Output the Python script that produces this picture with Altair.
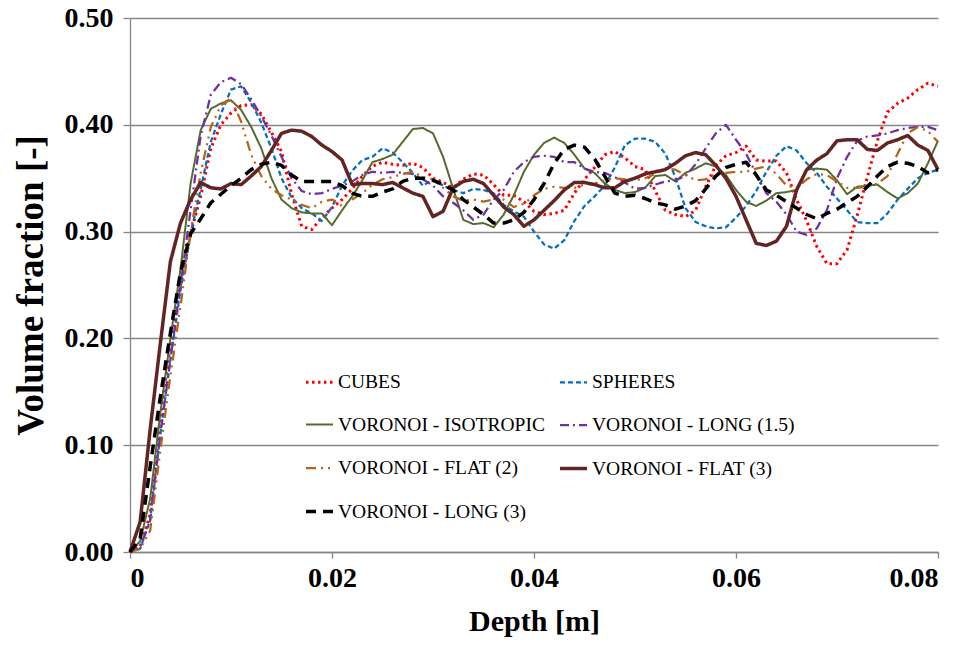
import altair as alt
import pandas as pd

DEPTH = [0.000, 0.001, 0.002, 0.003, 0.004, 0.005, 0.006, 0.007, 0.008, 0.009,
         0.010, 0.011, 0.012, 0.013, 0.014, 0.015, 0.016, 0.017, 0.018, 0.019,
         0.020, 0.021, 0.022, 0.023, 0.024, 0.025, 0.026, 0.027, 0.028, 0.029,
         0.030, 0.031, 0.032, 0.033, 0.034, 0.035, 0.036, 0.037, 0.038, 0.039,
         0.040, 0.041, 0.042, 0.043, 0.044, 0.045, 0.046, 0.047, 0.048, 0.049,
         0.050, 0.051, 0.052, 0.053, 0.054, 0.055, 0.056, 0.057, 0.058, 0.059,
         0.060, 0.061, 0.062, 0.063, 0.064, 0.065, 0.066, 0.067, 0.068, 0.069,
         0.070, 0.071, 0.072, 0.073, 0.074, 0.075, 0.076, 0.077, 0.078, 0.079,
         0.080]

CUBES = [0.0, 0.005, 0.035, 0.125, 0.195, 0.25, 0.298, 0.333, 0.378, 0.400,
         0.411, 0.418, 0.419, 0.410, 0.393, 0.375, 0.335, 0.305, 0.302, 0.313,
         0.322, 0.330, 0.340, 0.352, 0.361, 0.365, 0.363, 0.362, 0.364, 0.360,
         0.350, 0.346, 0.341, 0.349, 0.354, 0.353, 0.344, 0.334, 0.334, 0.328,
         0.319, 0.316, 0.317, 0.320, 0.336, 0.349, 0.360, 0.372, 0.375, 0.369,
         0.361, 0.358, 0.338, 0.320, 0.316, 0.314, 0.320, 0.342, 0.362, 0.371,
         0.374, 0.380, 0.367, 0.366, 0.366, 0.355, 0.330, 0.310, 0.286, 0.270,
         0.270, 0.283, 0.315, 0.351, 0.385, 0.412, 0.420, 0.425, 0.433, 0.439,
         0.436]

SPHERES = [0.0, 0.003, 0.03, 0.11, 0.18, 0.245, 0.298, 0.340, 0.384, 0.410,
           0.433, 0.436, 0.421, 0.402, 0.378, 0.350, 0.332, 0.322, 0.317, 0.310,
           0.323, 0.343, 0.357, 0.367, 0.370, 0.378, 0.374, 0.365, 0.355, 0.343,
           0.349, 0.343, 0.339, 0.336, 0.340, 0.339, 0.336, 0.325, 0.319, 0.314,
           0.300, 0.288, 0.284, 0.292, 0.310, 0.324, 0.333, 0.343, 0.360, 0.381,
           0.387, 0.387, 0.384, 0.373, 0.351, 0.322, 0.309, 0.305, 0.303, 0.304,
           0.313, 0.324, 0.338, 0.356, 0.371, 0.380, 0.376, 0.364, 0.355, 0.342,
           0.331, 0.320, 0.309, 0.308, 0.308, 0.317, 0.330, 0.340, 0.350, 0.355,
           0.358]

ISOTROPIC = [0.0, 0.01, 0.05, 0.13, 0.20, 0.265, 0.345, 0.395, 0.415, 0.420,
             0.423, 0.414, 0.398, 0.378, 0.350, 0.330, 0.322, 0.318, 0.317, 0.317,
             0.306, 0.320, 0.333, 0.348, 0.365, 0.368, 0.372, 0.384, 0.396, 0.397,
             0.392, 0.370, 0.340, 0.311, 0.307, 0.308, 0.304, 0.316, 0.334, 0.356,
             0.372, 0.383, 0.388, 0.383, 0.372, 0.359, 0.355, 0.345, 0.339, 0.336,
             0.337, 0.341, 0.352, 0.353, 0.347, 0.355, 0.359, 0.364, 0.361, 0.353,
             0.339, 0.328, 0.324, 0.329, 0.336, 0.337, 0.339, 0.358, 0.359, 0.358,
             0.348, 0.335, 0.342, 0.343, 0.344, 0.337, 0.331, 0.336, 0.345, 0.364,
             0.385]

LONG15 = [0.0, 0.004, 0.03, 0.11, 0.18, 0.25, 0.32, 0.39, 0.428, 0.440,
          0.444, 0.438, 0.424, 0.408, 0.390, 0.370, 0.350, 0.338, 0.335, 0.336,
          0.340, 0.343, 0.347, 0.353, 0.356, 0.355, 0.356, 0.355, 0.354, 0.349,
          0.343, 0.333, 0.327, 0.320, 0.311, 0.316, 0.330, 0.339, 0.356, 0.365,
          0.370, 0.371, 0.370, 0.365, 0.365, 0.359, 0.356, 0.355, 0.351, 0.346,
          0.340, 0.341, 0.344, 0.347, 0.348, 0.352, 0.363, 0.378, 0.392, 0.400,
          0.386, 0.373, 0.354, 0.336, 0.328, 0.316, 0.300, 0.297, 0.303, 0.320,
          0.350, 0.370, 0.385, 0.389, 0.390, 0.392, 0.395, 0.397, 0.398, 0.398,
          0.395]

FLAT2 = [0.0, 0.003, 0.02, 0.095, 0.165, 0.23, 0.30, 0.355, 0.398, 0.418,
         0.425, 0.403, 0.372, 0.352, 0.340, 0.334, 0.330, 0.325, 0.322, 0.328,
         0.330, 0.324, 0.330, 0.336, 0.344, 0.349, 0.351, 0.354, 0.356, 0.351,
         0.349, 0.341, 0.333, 0.329, 0.330, 0.328, 0.330, 0.330, 0.323, 0.326,
         0.334, 0.340, 0.342, 0.341, 0.341, 0.344, 0.345, 0.348, 0.350, 0.349,
         0.348, 0.350, 0.354, 0.359, 0.358, 0.353, 0.348, 0.349, 0.354, 0.355,
         0.356, 0.356, 0.359, 0.361, 0.354, 0.343, 0.341, 0.349, 0.354, 0.353,
         0.347, 0.341, 0.341, 0.342, 0.345, 0.352, 0.373, 0.392, 0.398, 0.394,
         0.384]

FLAT3 = [0.0, 0.028, 0.115, 0.195, 0.272, 0.308, 0.330, 0.346, 0.341, 0.340,
         0.345, 0.344, 0.352, 0.361, 0.376, 0.392, 0.395, 0.394, 0.389, 0.381,
         0.375, 0.367, 0.344, 0.345, 0.345, 0.344, 0.346, 0.341, 0.336, 0.333,
         0.314, 0.319, 0.341, 0.347, 0.349, 0.345, 0.334, 0.323, 0.316, 0.305,
         0.311, 0.320, 0.329, 0.339, 0.346, 0.346, 0.344, 0.341, 0.341, 0.347,
         0.350, 0.354, 0.356, 0.358, 0.364, 0.371, 0.374, 0.372, 0.362, 0.350,
         0.333, 0.311, 0.289, 0.287, 0.291, 0.305, 0.339, 0.358, 0.367, 0.373,
         0.385, 0.386, 0.386, 0.377, 0.376, 0.383, 0.386, 0.390, 0.381, 0.376,
         0.358]

LONG3 = [0.0, 0.012, 0.08, 0.145, 0.205, 0.262, 0.298, 0.312, 0.327, 0.335,
         0.343, 0.350, 0.358, 0.363, 0.365, 0.362, 0.353, 0.347, 0.347, 0.347,
         0.347, 0.343, 0.336, 0.333, 0.333, 0.337, 0.340, 0.347, 0.350, 0.350,
         0.348, 0.344, 0.339, 0.330, 0.323, 0.316, 0.308, 0.308, 0.311, 0.318,
         0.330, 0.345, 0.364, 0.377, 0.381, 0.379, 0.368, 0.352, 0.336, 0.333,
         0.334, 0.331, 0.327, 0.325, 0.321, 0.324, 0.329, 0.340, 0.352, 0.360,
         0.363, 0.365, 0.353, 0.339, 0.334, 0.328, 0.322, 0.316, 0.312, 0.317,
         0.321, 0.327, 0.333, 0.342, 0.352, 0.361, 0.365, 0.364, 0.361, 0.355,
         0.358]

SERIES = ["CUBES", "SPHERES", "VORONOI - ISOTROPIC", "VORONOI - LONG (1.5)",
          "VORONOI - FLAT (2)", "VORONOI - FLAT (3)", "VORONOI - LONG (3)"]
VALUES = [CUBES, SPHERES, ISOTROPIC, LONG15, FLAT2, FLAT3, LONG3]
COLORS = ["#FF0000", "#0070C0", "#556B30", "#7030A0", "#B86418", "#632523", "#000000"]
DASHES = [[2.5, 3.5], [5, 3], [1, 0], [9, 4, 2, 4], [10, 5, 2, 5, 2, 5], [1, 0], [10, 7]]
WIDTHS = [3, 2.25, 2, 2.25, 2.25, 3.5, 3.5]

# the legend fills column by column: reorder so it reads row by row
LEGEND_ORDER = [0, 2, 4, 6, 1, 3, 5]
DOMAIN = [SERIES[i] for i in LEGEND_ORDER]
COLOR_R = [COLORS[i] for i in LEGEND_ORDER]
DASH_R = [DASHES[i] for i in LEGEND_ORDER]
WIDTH_R = [WIDTHS[i] for i in LEGEND_ORDER]

rows = []
for s_i, (name, vals) in enumerate(zip(SERIES, VALUES)):
    for d, v in zip(DEPTH, vals):
        rows.append({"series": name, "order": s_i, "depth": d, "vf": v})
df = pd.DataFrame(rows)

FONT = "Liberation Serif, Times New Roman, serif"
GRAY = "#868686"

def leg():
    return alt.Legend(title=None, labelFont=FONT, labelFontSize=19.5,
                      labelFontWeight="normal", labelColor="#000000")

chart = alt.Chart(df).mark_line(strokeJoin="round").encode(
    x=alt.X("depth:Q", title="Depth [m]",
            scale=alt.Scale(domain=[0, 0.08], nice=False),
            axis=alt.Axis(values=[0, 0.02, 0.04, 0.06, 0.08],
                          labelExpr="datum.value == 0 ? '0' : format(datum.value, '.2f')",
                          grid=False, tickSize=6, labelPadding=6, titlePadding=14,
                          titleFontSize=30)),
    y=alt.Y("vf:Q", title="Volume fraction [-]",
            scale=alt.Scale(domain=[0, 0.5], nice=False),
            axis=alt.Axis(values=[0, 0.1, 0.2, 0.3, 0.4, 0.5], format=".2f",
                          grid=True, tickSize=7, labelPadding=10, titlePadding=14,
                          titleFontSize=37)),
    color=alt.Color("series:N", scale=alt.Scale(domain=DOMAIN, range=COLOR_R),
                    legend=leg()),
    strokeDash=alt.StrokeDash("series:N", scale=alt.Scale(domain=DOMAIN, range=DASH_R),
                              legend=leg()),
    strokeWidth=alt.StrokeWidth("series:N",
                                scale=alt.Scale(type="ordinal", domain=DOMAIN, range=WIDTH_R),
                                legend=leg()),
    order=alt.Order("order:Q"),
).properties(
    width=808, height=534,
    autosize=alt.AutoSizeParams(type="none"),
    padding={"left": 122, "top": 10, "right": 22, "bottom": 94},
).configure(font=FONT).configure_view(stroke=None).configure_axis(
    labelFont=FONT, labelFontSize=28, labelFontWeight="bold", labelColor="#000000",
    titleFont=FONT, titleFontWeight="bold", titleColor="#000000",
    domainColor=GRAY, tickColor=GRAY, gridColor=GRAY, gridWidth=1.3, domainWidth=1.3,
    tickWidth=1.3,
).configure_legend(
    orient="none", legendX=174, legendY=349, columns=2, columnPadding=8,
    rowPadding=18, symbolType="stroke", symbolSize=729, labelFont=FONT,
    labelFontSize=19.5, labelColor="#000000", labelOffset=3, padding=0,
    labelLimit=400,
)

chart.save("out.html", embed_options={"renderer": "svg", "actions": False})
